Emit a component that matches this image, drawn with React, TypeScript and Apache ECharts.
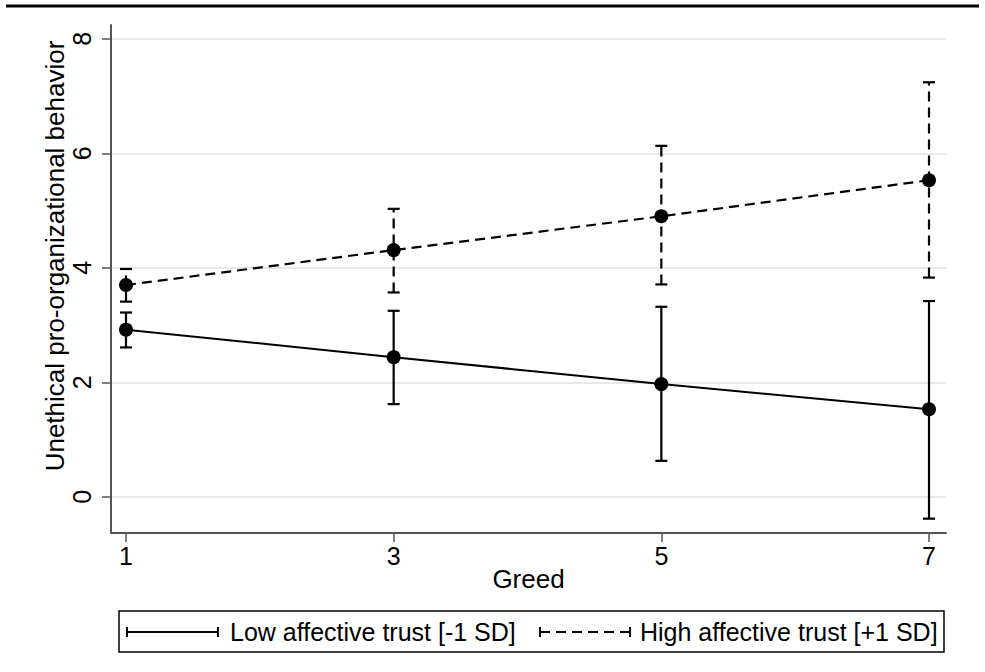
import React, { useEffect, useRef } from "react";
import * as echarts from "echarts";

const greed = [1, 3, 5, 7];
const lowMean = [2.92, 2.44, 1.97, 1.53];
const lowLower = [2.61, 1.62, 0.63, -0.38];
const lowUpper = [3.22, 3.25, 3.32, 3.42];
const highMean = [3.7, 4.31, 4.9, 5.53];
const highLower = [3.41, 3.57, 3.71, 3.83];
const highUpper = [3.98, 5.03, 6.13, 7.24];
const xTicks = [1, 3, 5, 7];
const yTicks = [0, 2, 4, 6, 8];
const xTitle = "Greed";
const yTitle = "Unethical pro-organizational behavior";
const lowName = "Low affective trust [-1 SD]";
const highName = "High affective trust [+1 SD]";

const FONT = "Liberation Sans, Arial, Helvetica, sans-serif";
const DASH = [10, 6];

function errorSeries(name: string, lower: number[], upper: number[], dashed: boolean) {
  return {
    type: "custom",
    name,
    silent: true,
    data: greed.map((g, i) => [g, lower[i], upper[i]]),
    encode: { x: 0, y: [1, 2] },
    renderItem: (params: any, api: any) => {
      const x = api.value(0);
      const lo = api.coord([x, api.value(1)]);
      const hi = api.coord([x, api.value(2)]);
      const cw = 6;
      const st = { stroke: "#000", lineWidth: 2.2, lineDash: dashed ? DASH : null };
      const cap = { stroke: "#000", lineWidth: 2.2 };
      return {
        type: "group",
        children: [
          { type: "line", shape: { x1: lo[0], y1: lo[1], x2: hi[0], y2: hi[1] }, style: st },
          { type: "line", shape: { x1: lo[0] - cw, y1: lo[1], x2: lo[0] + cw, y2: lo[1] }, style: cap },
          { type: "line", shape: { x1: hi[0] - cw, y1: hi[1], x2: hi[0] + cw, y2: hi[1] }, style: cap },
        ],
      };
    },
    z: 2,
  };
}

export default function App() {
  const ref = useRef<HTMLDivElement>(null);
  useEffect(() => {
    if (!ref.current) return;
    const chart = echarts.init(ref.current, null, { renderer: "svg" });
    const legendY = 632;
    chart.setOption({
      animation: false,
      backgroundColor: "#fff",
      textStyle: { fontFamily: FONT },
      grid: { left: 111, top: 25, width: 835, height: 508, containLabel: false },
      xAxis: {
        type: "value",
        min: 0.888,
        max: 7.127,
        name: xTitle,
        nameLocation: "middle",
        nameGap: 33,
        nameMoveOverlap: false,
        nameTextStyle: { fontSize: 26, color: "#000", fontFamily: FONT },
        axisLine: { show: true, onZero: false, lineStyle: { color: "#555", width: 2 } },
        axisTick: { show: true, length: 9, customValues: xTicks, lineStyle: { color: "#555", width: 1.5 } },
        axisLabel: { customValues: xTicks, fontSize: 25, color: "#000", margin: 10, fontFamily: FONT },
        splitLine: { show: false },
      },
      yAxis: {
        type: "value",
        min: -0.63,
        max: 8.24,
        axisLine: { show: true, onZero: false, lineStyle: { color: "#555", width: 2 } },
        axisTick: { show: true, length: 9, customValues: yTicks, lineStyle: { color: "#555", width: 1.5 } },
        axisLabel: { customValues: yTicks, rotate: 90, fontSize: 25, color: "#000", margin: 17, fontFamily: FONT },
        splitLine: { show: true, lineStyle: { color: "#e8e8e8", width: 2 } },
      },
      series: [
        errorSeries(lowName + " CI", lowLower, lowUpper, false),
        errorSeries(highName + " CI", highLower, highUpper, true),
        {
          type: "line",
          name: lowName,
          data: greed.map((g, i) => [g, lowMean[i]]),
          symbol: "circle",
          symbolSize: 14,
          itemStyle: { color: "#000" },
          lineStyle: { color: "#000", width: 2 },
          z: 3,
        },
        {
          type: "line",
          name: highName,
          data: greed.map((g, i) => [g, highMean[i]]),
          symbol: "circle",
          symbolSize: 14,
          itemStyle: { color: "#000" },
          lineStyle: { color: "#000", width: 2.2, type: DASH },
          z: 3,
        },
      ],
      graphic: [
        { type: "line", shape: { x1: 6, y1: 6, x2: 979, y2: 6 }, style: { stroke: "#000", lineWidth: 3 } },
        {
          type: "text",
          x: 55,
          y: 256,
          rotation: Math.PI / 2,
          style: { text: yTitle, fill: "#000", font: `26px ${FONT}`, align: "center", verticalAlign: "middle" },
        },
        { type: "rect", shape: { x: 119, y: 611, width: 825, height: 41 }, style: { fill: "#fff", stroke: "#000", lineWidth: 1.5 } },
        { type: "line", shape: { x1: 127, y1: legendY, x2: 218, y2: legendY }, style: { stroke: "#000", lineWidth: 2 } },
        { type: "line", shape: { x1: 127, y1: legendY - 5, x2: 127, y2: legendY + 5 }, style: { stroke: "#000", lineWidth: 2 } },
        { type: "line", shape: { x1: 218, y1: legendY - 5, x2: 218, y2: legendY + 5 }, style: { stroke: "#000", lineWidth: 2 } },
        { type: "text", x: 230, y: legendY, style: { text: lowName, fill: "#000", font: `25px ${FONT}`, verticalAlign: "middle", align: "left" } },
        { type: "line", shape: { x1: 540, y1: legendY, x2: 630, y2: legendY }, style: { stroke: "#000", lineWidth: 2, lineDash: DASH } },
        { type: "line", shape: { x1: 540, y1: legendY - 5, x2: 540, y2: legendY + 5 }, style: { stroke: "#000", lineWidth: 2 } },
        { type: "line", shape: { x1: 630, y1: legendY - 5, x2: 630, y2: legendY + 5 }, style: { stroke: "#000", lineWidth: 2 } },
        { type: "text", x: 640, y: legendY, style: { text: highName, fill: "#000", font: `25px ${FONT}`, verticalAlign: "middle", align: "left" } },
      ],
    });
    return () => chart.dispose();
  }, []);
  return (
    <div
      ref={ref}
      style={{ position: "absolute", left: 0, top: 0, width: 985, height: 672, background: "#fff" }}
    />
  );
}
